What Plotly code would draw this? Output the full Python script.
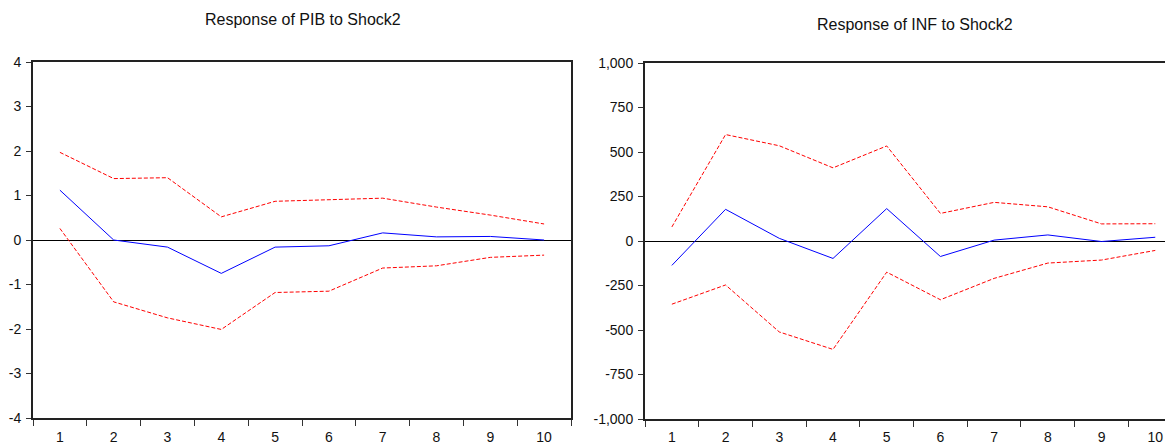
import plotly.graph_objects as go

periods = [1, 2, 3, 4, 5, 6, 7, 8, 9, 10]

pib_resp = [1.12, 0.0, -0.16, -0.75, -0.16, -0.13, 0.16, 0.07, 0.08, 0.0]
pib_upper = [1.97, 1.38, 1.40, 0.52, 0.87, 0.90, 0.94, 0.74, 0.56, 0.36]
pib_lower = [0.26, -1.39, -1.75, -2.01, -1.18, -1.15, -0.63, -0.58, -0.39, -0.34]

inf_resp = [-137, 178, 15, -98, 182, -87, 5, 34, -3, 21]
inf_upper = [79, 598, 535, 411, 534, 155, 217, 192, 96, 97]
inf_lower = [-355, -247, -511, -609, -175, -330, -210, -124, -107, -53]

pib_ticks = [-4, -3, -2, -1, 0, 1, 2, 3, 4]
pib_ticktext = ["-4", "-3", "-2", "-1", "0", "1", "2", "3", "4"]
inf_ticks = [-1000, -750, -500, -250, 0, 250, 500, 750, 1000]
inf_ticktext = ["-1,000", "-750", "-500", "-250", "0", "250", "500", "750", "1,000"]

titles = ["Response of PIB to Shock2", "Response of INF to Shock2"]

# the page places the figure 8px in from the top-left corner
OFF = 8
W, H = 1173 - OFF, 444 - OFF
FONT = "Liberation Sans, Arial, sans-serif"

def px(x):
    return (x - OFF) / W

def py(y):
    return (H - (y - OFF)) / H

fig = go.Figure()

red = "#FF0000"
blue = "#0000FF"
dash = "4px,2px"

def add_panel(idx, resp, up, lo):
    xa = "x" if idx == 1 else "x2"
    ya = "y" if idx == 1 else "y2"
    fig.add_trace(go.Scatter(x=periods, y=up, mode="lines", xaxis=xa, yaxis=ya,
                             line=dict(color=red, width=1, dash=dash), showlegend=False))
    fig.add_trace(go.Scatter(x=periods, y=lo, mode="lines", xaxis=xa, yaxis=ya,
                             line=dict(color=red, width=1, dash=dash), showlegend=False))
    fig.add_trace(go.Scatter(x=periods, y=resp, mode="lines", xaxis=xa, yaxis=ya,
                             line=dict(color=blue, width=1), showlegend=False))

add_panel(1, pib_resp, pib_upper, pib_lower)
add_panel(2, inf_resp, inf_upper, inf_lower)

xcommon = dict(
    tickmode="array", tickvals=periods, ticktext=[str(p) for p in periods],
    ticks="", showgrid=False, zeroline=False, automargin=False,
    showline=True, linecolor="#222222", linewidth=2, mirror=True,
    tickfont=dict(family=FONT, size=14, color="#111111"),
    minor=dict(ticks="outside", tick0=0.5, dtick=1, ticklen=6, tickcolor="#333333", tickwidth=1, showgrid=False),
)
ycommon = dict(
    tickmode="array", ticks="outside", ticklen=5, tickcolor="#333333",
    showgrid=False, zeroline=True, zerolinecolor="black", zerolinewidth=1, automargin=False,
    showline=True, linecolor="#222222", linewidth=2, mirror=True,
    ticklabelstandoff=2,
    tickfont=dict(family=FONT, size=14, color="#111111"),
)

fig.update_layout(
    template="none",
    width=W, height=H,
    margin=dict(l=0, r=0, t=0, b=0, pad=0),
    paper_bgcolor="white", plot_bgcolor="white",
    xaxis=dict(domain=[px(33), px(571)], range=[0.5, 10.5], anchor="y",
               ticklabelstandoff=5, **xcommon),
    xaxis2=dict(domain=[px(645), 1.0], range=[0.5, 10.33], anchor="y2",
                ticklabelstandoff=4, **xcommon),
    yaxis=dict(domain=[py(418), py(62)], range=[-4, 4], anchor="x",
               tickvals=pib_ticks, ticktext=pib_ticktext, **ycommon),
    yaxis2=dict(domain=[py(419), py(63)], range=[-1000, 1000], anchor="x2",
                tickvals=inf_ticks, ticktext=inf_ticktext, **ycommon),
    annotations=[
        dict(text=titles[0], x=px(303), y=py(20), xref="paper", yref="paper",
             showarrow=False, xanchor="center", yanchor="middle",
             font=dict(family=FONT, size=16, color="#111111")),
        dict(text=titles[1], x=px(915), y=py(24), xref="paper", yref="paper",
             showarrow=False, xanchor="center", yanchor="middle",
             font=dict(family=FONT, size=16, color="#111111")),
    ],
)

fig.write_html("out.html")
